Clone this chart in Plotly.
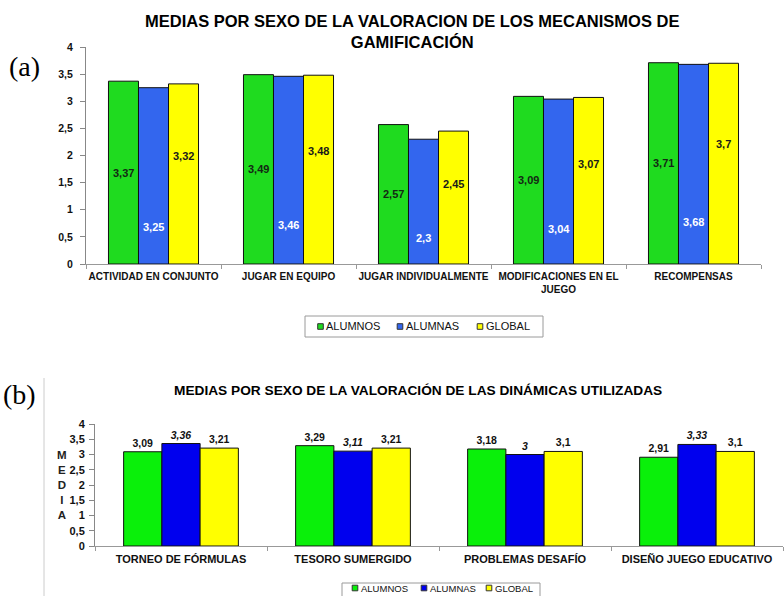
import plotly.graph_objects as go

# ---------------- data ----------------
series_names = ["ALUMNOS", "ALUMNAS", "GLOBAL"]

cats_a = ["ACTIVIDAD EN CONJUNTO", "JUGAR EN EQUIPO", "JUGAR INDIVIDUALMENTE",
          "MODIFICACIONES EN EL<br>JUEGO", "RECOMPENSAS"]
alumnos_a = [3.37, 3.49, 2.57, 3.09, 3.71]
alumnas_a = [3.25, 3.46, 2.30, 3.04, 3.68]
global_a = [3.32, 3.48, 2.45, 3.07, 3.70]

cats_b = ["TORNEO DE FÓRMULAS", "TESORO SUMERGIDO", "PROBLEMAS DESAFÍO",
          "DISEÑO JUEGO EDUCATIVO"]
alumnos_b = [3.09, 3.29, 3.18, 2.91]
alumnas_b = [3.36, 3.11, 3.00, 3.33]
global_b = [3.21, 3.21, 3.10, 3.10]

y_tick_vals = [0, 0.5, 1, 1.5, 2, 2.5, 3, 3.5, 4]
y_tick_text = ["0", "0,5", "1", "1,5", "2", "2,5", "3", "3,5", "4"]

title_a = "MEDIAS POR SEXO DE LA VALORACION DE LOS MECANISMOS DE<br>GAMIFICACIÓN"
title_b = "MEDIAS POR SEXO DE LA VALORACIÓN DE LAS DINÁMICAS UTILIZADAS"

# ---------------- styles ----------------
W, H = 784, 596
FONT = "Liberation Sans, Arial, sans-serif"
SERIF = "Liberation Serif, Times New Roman, serif"
colors_a = ["#1FDB1F", "#3366EE", "#FFFF00"]
colors_b = ["#0AF00A", "#0000EE", "#FFFF00"]
label_colors_a = ["#142814", "#FFFFFF", "#1a1a1a"]
label_frac_a = [0.5, 0.21, 0.6]   # vertical position of inside labels (fraction of bar)
bar_px_a = 30


def px(x):
    return x / W


def py(y):
    return 1 - y / H


def fmt(v):
    return f"{v:g}".replace(".", ",")


fig = go.Figure()

vals_a = [alumnos_a, alumnas_a, global_a]
vals_b = [alumnos_b, alumnas_b, global_b]

for i, name in enumerate(series_names):
    fig.add_trace(go.Bar(
        x=cats_a, y=vals_a[i], name=name, showlegend=False,
        marker=dict(color=colors_a[i], line=dict(color="#111111", width=1)),
        xaxis="x", yaxis="y", hoverinfo="x+y+name",
    ))

for i, name in enumerate(series_names):
    fig.add_trace(go.Bar(
        x=cats_b, y=vals_b[i], name=name, showlegend=False,
        text=[fmt(v) for v in vals_b[i]], textposition="outside",
        textfont=dict(family=FONT, size=10.5, color="#111111", weight="bold",
                      style="italic" if i == 1 else "normal"),
        cliponaxis=False,
        marker=dict(color=colors_b[i], line=dict(color="#111111", width=1)),
        xaxis="x2", yaxis="y2", hoverinfo="x+y+name",
    ))

annotations = []
for i in range(3):
    for c, v in zip(cats_a, vals_a[i]):
        annotations.append(dict(
            x=c, y=v * label_frac_a[i], xref="x", yref="y",
            xshift=(i - 1) * bar_px_a, text=fmt(v), showarrow=False,
            font=dict(family=FONT, size=11, color=label_colors_a[i], weight="bold"),
        ))

annotations += [
    dict(x=px(412), y=py(31), xref="paper", yref="paper", text=title_a,
         showarrow=False, font=dict(family=FONT, size=16.5, color="#000", weight="bold"),
         xanchor="center", yanchor="middle"),
    dict(x=px(418), y=py(390), xref="paper", yref="paper", text=title_b,
         showarrow=False, font=dict(family=FONT, size=13.7, color="#000", weight="bold"),
         xanchor="center", yanchor="middle"),
    dict(x=px(24), y=py(66), xref="paper", yref="paper", text="(a)",
         showarrow=False, font=dict(family=SERIF, size=28, color="#000"),
         xanchor="center", yanchor="middle"),
    dict(x=px(19), y=py(394), xref="paper", yref="paper", text="(b)",
         showarrow=False, font=dict(family=SERIF, size=28, color="#000"),
         xanchor="center", yanchor="middle"),
    dict(x=px(61.5), y=py(485), xref="paper", yref="paper",
         text="M<br>E<br>D<br>I<br>A", showarrow=False,
         font=dict(family=FONT, size=11.5, color="#222", weight="bold"),
         xanchor="center", yanchor="middle"),
]

shapes = [dict(type="line", xref="paper", yref="paper",
               x0=px(44), x1=px(44), y0=0, y1=py(378),
               line=dict(color="#cccccc", width=1))]

# ---------- legends (box + swatches + labels) ----------
legend_specs = [
    dict(box=(305, 543, 316, 337), sw=(320.5, 400, 480), cy=326.5, size=11, colors=colors_a),
    dict(box=(342, 540, 583, 600), sw=(355, 424, 489), cy=588, size=9.5, colors=colors_b),
]
for spec in legend_specs:
    x0, x1, y0, y1 = spec["box"]
    shapes.append(dict(type="rect", xref="paper", yref="paper",
                       x0=px(x0), x1=px(x1), y0=py(y1), y1=py(y0),
                       line=dict(color="#9a9a9a", width=1), fillcolor="white",
                       layer="below"))
    for name, sx, col in zip(series_names, spec["sw"], spec["colors"]):
        s = 2.8
        shapes.append(dict(type="rect", xref="paper", yref="paper",
                           x0=px(sx - s), x1=px(sx + s),
                           y0=py(spec["cy"] + s), y1=py(spec["cy"] - s),
                           line=dict(color="#333333", width=1), fillcolor=col))
        annotations.append(dict(x=px(sx + s + 1), y=py(spec["cy"]), xref="paper",
                                yref="paper", text=name, showarrow=False,
                                xanchor="left", yanchor="middle",
                                font=dict(family=FONT, size=spec["size"], color="#111")))

fig.update_layout(
    width=W, height=H,
    margin=dict(l=0, r=0, t=0, b=0, autoexpand=False),
    paper_bgcolor="white", plot_bgcolor="white",
    barmode="group", bargap=0.333, bargroupgap=0,
    separators=",.",
    showlegend=False,
    font=dict(family=FONT, color="#111"),
    annotations=annotations,
    shapes=shapes,
    xaxis=dict(domain=[px(86), px(761)], anchor="y", type="category",
               automargin=False, tickangle=0, ticklabelstandoff=3,
               showline=True, linecolor="#999", linewidth=1,
               ticks="outside", tickson="boundaries", ticklen=4, tickcolor="#999",
               tickfont=dict(family=FONT, size=10, color="#111", weight="bold"),
               showgrid=False, zeroline=False),
    yaxis=dict(domain=[py(264), py(47)], anchor="x", range=[0, 4],
               automargin=False,
               tickvals=y_tick_vals, ticktext=y_tick_text,
               showline=True, linecolor="#888", linewidth=1,
               ticks="outside", ticklen=5, tickcolor="#888", ticklabelstandoff=5,
               tickfont=dict(family=FONT, size=10.5, color="#111", weight="bold"),
               showgrid=False, zeroline=False),
    xaxis2=dict(domain=[px(95), px(783)], anchor="y2", type="category",
                automargin=False, tickangle=0, ticklabelstandoff=3,
                showline=True, linecolor="#999", linewidth=1,
                ticks="outside", tickson="boundaries", ticklen=4, tickcolor="#999",
                tickfont=dict(family=FONT, size=11, color="#111", weight="bold"),
                showgrid=False, zeroline=False),
    yaxis2=dict(domain=[py(546), py(424)], anchor="x2", range=[0, 4],
                automargin=False,
                tickvals=y_tick_vals, ticktext=y_tick_text,
                showline=True, linecolor="#888", linewidth=1,
                ticks="outside", ticklen=5, tickcolor="#888", ticklabelstandoff=2,
                tickfont=dict(family=FONT, size=11, color="#111", weight="bold"),
                showgrid=False, zeroline=False),
)

fig.write_html(
    "out.html",
    config={"displayModeBar": False},
    post_script="document.body.style.margin='0px';document.body.style.overflow='hidden';",
)
